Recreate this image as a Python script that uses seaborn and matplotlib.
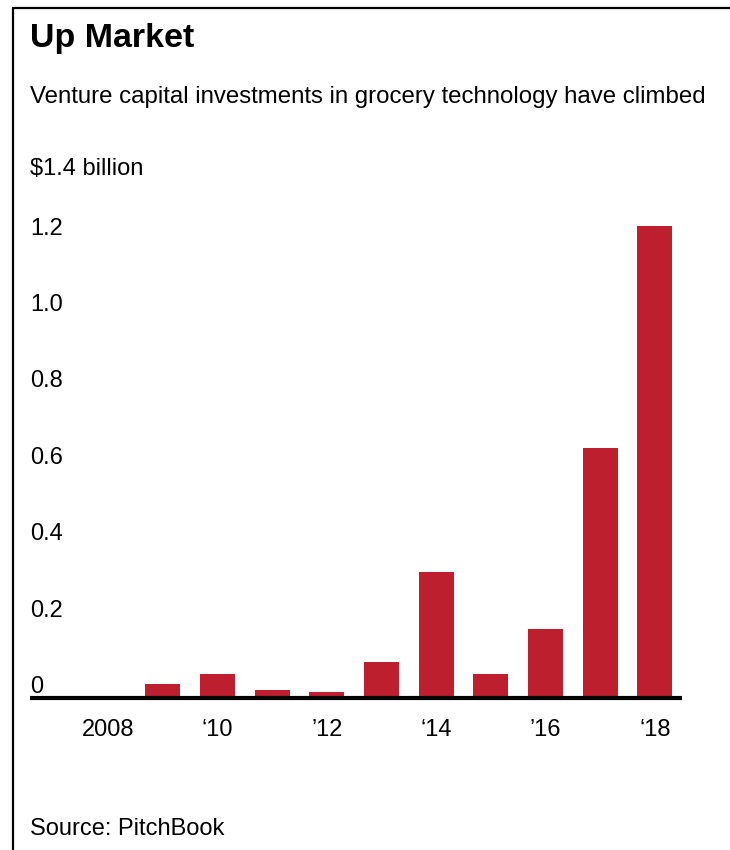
import matplotlib
matplotlib.use("Agg")
import matplotlib.pyplot as plt
from matplotlib.lines import Line2D
import seaborn as sns
import pandas as pd

# ---- data ----
years = ["2008", "2009", "2010", "2011", "2012", "2013", "2014", "2015", "2016", "2017", "2018"]
investment_billion = [0.0, 0.036, 0.063, 0.021, 0.015, 0.093, 0.33, 0.062, 0.18, 0.655, 1.235]
xtick_years = ["2008", "2010", "2012", "2014", "2016", "2018"]
xtick_labels = ["2008", "\u201810", "\u201912", "\u201814", "\u201916", "\u201818"]
ytick_values = [0, 0.2, 0.4, 0.6, 0.8, 1.0, 1.2]
ytick_labels = ["0", "0.2", "0.4", "0.6", "0.8", "1.0", "1.2"]
title = "Up Market"
subtitle = "Venture capital investments in grocery technology have climbed"
unit_label = "$1.4 billion"
source = "Source: PitchBook"

BAR_COLOR = "#BE1F2E"

sns.set_style("white")
plt.rcParams["font.family"] = ["Liberation Sans", "DejaVu Sans"]
plt.rcParams["text.color"] = "black"

df = pd.DataFrame({"year": years, "value": investment_billion})

W, H = 730, 850
fig = plt.figure(figsize=(W / 100, H / 100), dpi=100)
fig.patch.set_facecolor("white")

# axes placement in pixels
ax_left, ax_right = 30, 682
ax_zero_px, ax_top_px = 698, 698 - 1.4 * 382
ax = fig.add_axes([ax_left / W, (H - ax_zero_px) / H,
                   (ax_right - ax_left) / W, (ax_zero_px - ax_top_px) / H])

sns.barplot(data=df, x="year", y="value", order=years, color=BAR_COLOR,
            saturation=1, width=0.64, ax=ax, linewidth=0)

ax.set_xlim(-1.426, 10.494)
ax.set_ylim(0, 1.4)
for s in ax.spines.values():
    s.set_visible(False)
ax.set_xlabel("")
ax.set_ylabel("")

# x ticks
ax.set_xticks([years.index(y) for y in xtick_years])
ax.set_xticklabels(xtick_labels, fontsize=17, color="black")
ax.tick_params(axis="x", length=0, pad=15)

# y ticks: left-aligned labels sitting just above their value
ax.set_yticks(ytick_values)
ax.set_yticklabels(ytick_labels, fontsize=17, color="black")
ax.tick_params(axis="y", length=0, pad=0)
for lbl in ax.get_yticklabels():
    lbl.set_ha("left")
    lbl.set_va("bottom")

# baseline
ax.axhline(0, color="black", lw=3, zorder=5, solid_capstyle="butt", clip_on=False)

# texts
fig.text(30 / W, 1 - 38 / H, title, fontsize=24.5, fontweight="bold", va="center", ha="left",
         color="black")
fig.text(30 / W, 1 - 97 / H, subtitle, fontsize=17.3, va="center", ha="left", color="black")
fig.text(30 / W, 1 - 169 / H, unit_label, fontsize=17, va="center", ha="left", color="black")
fig.text(30 / W, 1 - 829 / H, source, fontsize=17, va="center", ha="left", color="black")

# frame lines (top and left)
fig.add_artist(Line2D([12.5 / W, 12.5 / W], [0, 1 - 8 / H], color="black", lw=1.6,
                      transform=fig.transFigure, solid_capstyle="butt"))
fig.add_artist(Line2D([11.7 / W, 1], [1 - 8 / H, 1 - 8 / H], color="black", lw=1.6,
                      transform=fig.transFigure, solid_capstyle="butt"))

fig.savefig("out.png", dpi=100)
